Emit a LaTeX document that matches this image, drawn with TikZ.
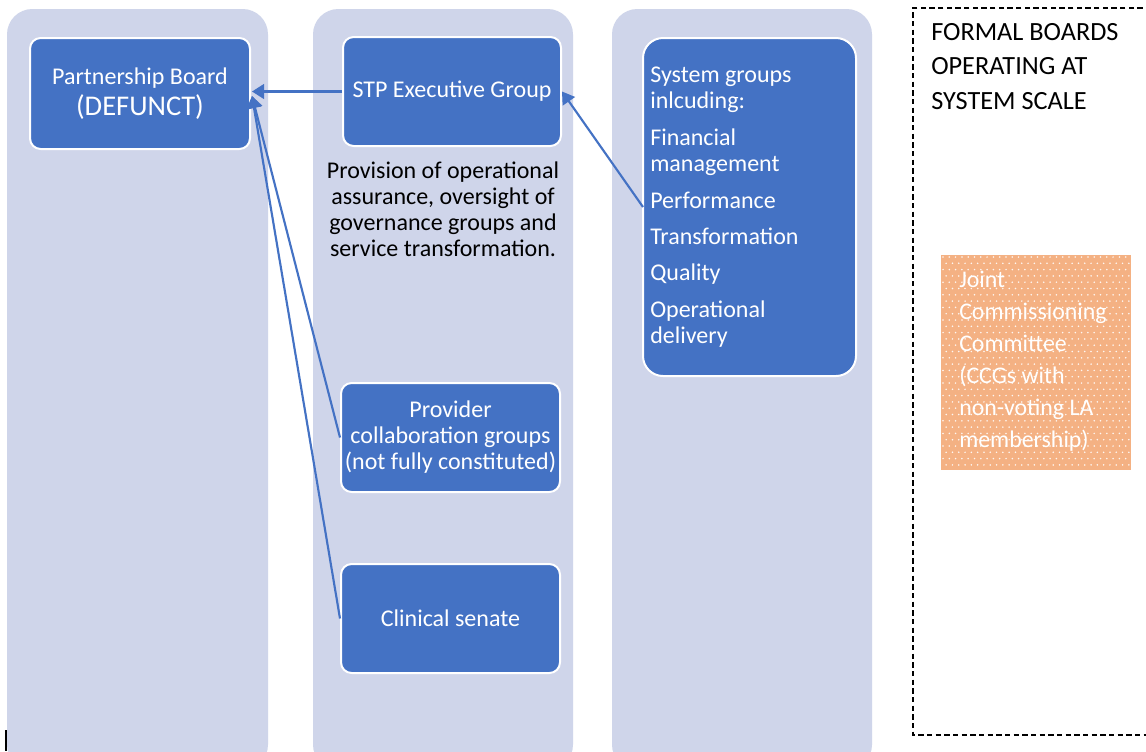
\documentclass[tikz,border=0pt]{standalone}
\usepackage{fontspec}
\setmainfont{Carlito}
\usetikzlibrary{arrows.meta}
\definecolor{colbg}{HTML}{CFD5EA}
\definecolor{boxblue}{HTML}{4472C4}
\definecolor{orangefill}{HTML}{F4B183}
\tikzset{
  column/.style={fill=colbg, draw=none, rounded corners=19pt},
  bluebox/.style={fill=boxblue, draw=white, line width=1.5pt, rounded corners=8pt, text=white, font=\fontsize{18}{19.5}\selectfont, align=center, inner sep=0pt},
  conn/.style={draw=boxblue, line width=1.6pt, -{Triangle[length=9pt,width=11pt]}},
}
\begin{document}
\begin{tikzpicture}[x=0.75pt,y=-0.75pt]
\useasboundingbox (0,0) rectangle (1146,751);
\fill[white] (0,0) rectangle (1146,751);
\begin{scope}
\clip (0,0) rectangle (1146,751);
% columns
\path[column] (7,9) rectangle (268,770);
\path[column] (313,9) rectangle (573,770);
\path[column] (612,9) rectangle (872,770);
% dashed box
\draw[black, line width=0.9pt, dash pattern=on 4pt off 2.5pt] (1160,8) -- (913,8) -- (913,735) -- (1160,735);
\end{scope}
% boxes
\path[bluebox] (30,38) rectangle (250,149);
\node[text=white, align=center, inner sep=0pt] (pbtext) at (140,93.5) {\fontsize{18}{19.5}\selectfont Partnership Board\\[4pt]\fontsize{21.4}{22}\selectfont (DEFUNCT)};
\coordinate (pb) at (252,96);
\node[bluebox, minimum width=218*0.75pt, minimum height=109*0.75pt] (stp) at (452,91.5) {STP Executive Group};
\node[bluebox, minimum width=219*0.75pt, minimum height=109*0.75pt] (prov) at (450.5,437.5) {Provider\\collaboration groups\\(not fully constituted)};
\node[bluebox, minimum width=219*0.75pt, minimum height=109*0.75pt] (clin) at (450.5,618.5) {Clinical senate};
\path[bluebox, rounded corners=15pt] (643,38) rectangle (856,376);
\node[anchor=north west, text=white, align=left, inner sep=0pt, font=\fontsize{18}{19.5}\selectfont] (sys) at (650,67) {System groups\\inlcuding:\\[8pt]Financial\\management\\[8.5pt]Performance\\[7.5pt]Transformation\\[7.5pt]Quality\\[8pt]Operational\\delivery};
\coordinate (sysin) at (643,207);
% provision text
\node[align=center, inner sep=0pt, font=\fontsize{18}{19.5}\selectfont, text=black] (prov text) at (443,209) {Provision of operational\\assurance, oversight of\\governance groups and\\service transformation.};
% formal boards
\node[anchor=north west, align=left, inner sep=0pt, font=\fontsize{19.7}{26}\selectfont, text=black] (formal) at (931,23) {FORMAL BOARDS\\OPERATING AT\\SYSTEM SCALE};
% orange box
\begin{scope}
\clip (941,255) rectangle (1131,470);
\fill[orangefill] (941,255) rectangle (1131,470);
\foreach \r in {0,...,34}{
  \pgfmathsetmacro{\yy}{257+\r*6.3}
  \pgfmathsetmacro{\off}{mod(\r,2)*3.15}
  \foreach \c in {0,...,31}{
    \fill[white, opacity=0.9] ({943+\off+\c*6.3},\yy) circle (0.65pt);
  }
}
\end{scope}
\node[anchor=north west, align=left, inner sep=0pt, text=white, font=\fontsize{17.9}{24}\selectfont] (jcc) at (959,271) {Joint\\Commissioning\\Committee\\(CCGs with\\non-voting LA\\membership)};
% connectors
\draw[conn] (stp.west) -- (pb |- stp.west);
\draw[conn] (sysin) -- (stp.east);
\draw[conn] (prov.west) -- (pb);
\draw[conn] (clin.west) -- (pb);
% small cursor mark
\draw[black, line width=0.8pt] (6,730) -- (6,751);
\end{tikzpicture}
\end{document}
